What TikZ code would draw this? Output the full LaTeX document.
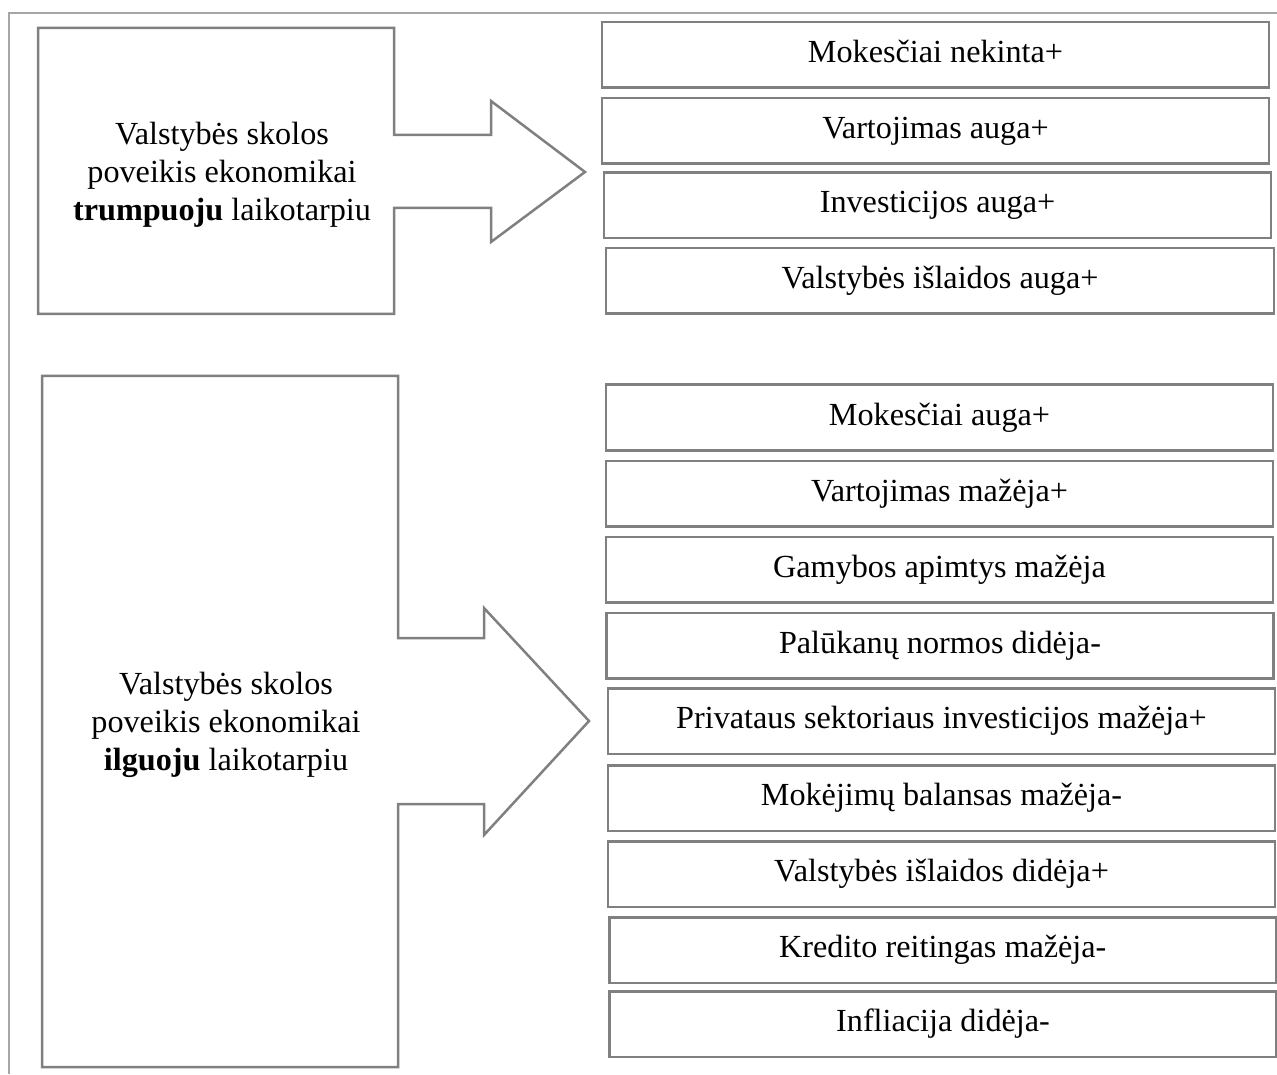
\documentclass[tikz,border=0pt]{standalone}
\usepackage{fontspec}
\setmainfont{Liberation Serif}
\begin{document}
\begin{tikzpicture}[x=0.5pt,y=-0.5pt,
  frame/.style={draw=black!35, line width=0.75pt},
  callout/.style={draw=black!50, line width=1.25pt, line join=miter},
  rbox/.style={draw=black!50, line width=1.25pt, minimum width=333.5pt, minimum height=32.75pt,
    inner sep=0pt, text height=0.75em, text depth=0pt, font=\fontsize{16.1}{19}\selectfont},
  ltext/.style={align=center, inner sep=0pt, font=\fontsize{16.1}{19}\selectfont}]
\useasboundingbox (0,0) rectangle (1277,1074);

% page frame (top and left rules)
\draw[frame] (9,1074) -- (9,13) -- (1277,13);

% short-term block with arrow
\draw[callout] (38,28) -- (394,28) -- (394,135) -- (491,135) -- (491,101) -- (585,172)
  -- (491,242) -- (491,208) -- (394,208) -- (394,314) -- (38,314) -- cycle;
\node[ltext] (short) at (222,175) {Valstybės skolos\\poveikis ekonomikai\\\textbf{trumpuoju} laikotarpiu};

% long-term block with arrow
\draw[callout] (42,376) -- (398,376) -- (398,638) -- (484,638) -- (484,608) -- (589,721)
  -- (484,835) -- (484,804) -- (398,804) -- (398,1067) -- (42,1067) -- cycle;
\node[ltext] (long) at (226,725) {Valstybės skolos\\poveikis ekonomikai\\\textbf{ilguoju} laikotarpiu};

% short-term effects
\node[rbox] (s1) at (935.5,55) {Mokesčiai nekinta+};
\node[rbox] (s2) at (935.5,131) {Vartojimas auga+};
\node[rbox] (s3) at (937.5,205.5) {Investicijos auga+};
\node[rbox, minimum width=334pt] (s4) at (940,281) {Valstybės išlaidos auga+};

% long-term effects
\node[rbox] (l1) at (939.5,417.5) {Mokesčiai auga+};
\node[rbox] (l2) at (939.5,493.5) {Vartojimas mažėja+};
\node[rbox] (l3) at (939.5,569.5) {Gamybos apimtys mažėja};
\node[rbox] (l4) at (940,645.5) {Palūkanų normos didėja-};
\node[rbox] (l5) at (941.5,721) {Privataus sektoriaus investicijos mažėja+};
\node[rbox] (l6) at (941.5,798) {Mokėjimų balansas mažėja-};
\node[rbox] (l7) at (941.5,874) {Valstybės išlaidos didėja+};
\node[rbox] (l8) at (942.75,950) {Kredito reitingas mažėja-};
\node[rbox] (l9) at (943,1024) {Infliacija didėja-};
\end{tikzpicture}
\end{document}
